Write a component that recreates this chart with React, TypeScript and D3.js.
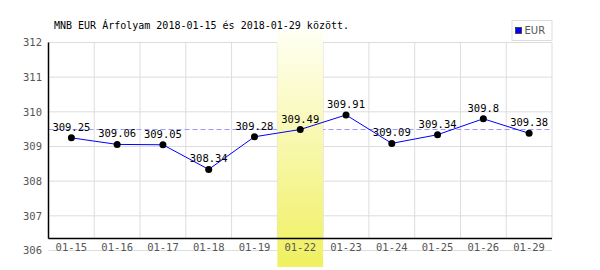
import React from "react";
import * as d3 from "d3";

const categories = ["01-15", "01-16", "01-17", "01-18", "01-19", "01-22", "01-23", "01-24", "01-25", "01-26", "01-29"];
const values = [309.25, 309.06, 309.05, 308.34, 309.28, 309.49, 309.91, 309.09, 309.34, 309.8, 309.38];
const yTicks = [306, 307, 308, 309, 310, 311, 312];
const highlightCategory = "01-22";
const referenceValue = 309.49;
const title = "MNB EUR Árfolyam 2018-01-15 és 2018-01-29 között.";
const seriesName = "EUR";

const W = 600;
const H = 270;
const left = 48.5;
const right = 552;
const axisY = 238.5;
const font = "'DejaVu Sans Mono', monospace";

export default function App() {
  const x = d3.scaleBand<string>().domain(categories).range([left, right]).padding(0);
  const y = d3.scaleLinear().domain([306, 312]).range([250.5, 42.5]);
  const cx = (c: string) => (x(c) as number) + x.bandwidth() / 2;
  const line = d3
    .line<number>()
    .x((_, i) => cx(categories[i]))
    .y((d) => y(d));
  const hx = x(highlightCategory) as number;
  const boundaries = categories.map((c) => x(c) as number).concat([right]);
  const refY = Math.round(y(referenceValue)) - 0.5;

  return (
    <svg width={W} height={H} style={{ position: "absolute", left: 0, top: 0 }}>
      <defs>
        <linearGradient id="hl" x1="0" y1="0" x2="0" y2="1">
          <stop offset="0" stopColor="#fffff4" />
          <stop offset="1" stopColor="#f0f060" />
        </linearGradient>
      </defs>
      <rect width={W} height={H} fill="#fff" />
      {yTicks.map((t) => (
        <line key={"h" + t} x1={left} x2={right} y1={y(t)} y2={y(t)} stroke="#dddddd" strokeWidth={1} />
      ))}
      {boundaries.map((b, i) => (
        <line key={"v" + i} x1={b} x2={b} y1={y(312)} y2={axisY} stroke="#dddddd" strokeWidth={1} />
      ))}
      <line x1={left} x2={right} y1={refY} y2={refY} stroke="#9999ff" strokeWidth={1} strokeDasharray="5,3" />
      <rect x={hx} y={30} width={x.bandwidth()} height={237} fill="url(#hl)" />
      <line x1={left} x2={left} y1={y(312)} y2={axisY} stroke="#000" strokeWidth={1.5} />
      <line x1={left} x2={right} y1={axisY} y2={axisY} stroke="#000" strokeWidth={1.5} />
      {yTicks.map((t) => (
        <text key={"yl" + t} x={42} y={y(t)} dy="0.35em" textAnchor="end" fontFamily={font} fontSize={10.5} fill="#555">
          {t}
        </text>
      ))}
      {categories.map((c) => (
        <text key={"xl" + c} x={cx(c)} y={251} textAnchor="middle" fontFamily={font} fontSize={10.5} fill="#555">
          {c}
        </text>
      ))}
      <path d={line(values) as string} fill="none" stroke="#0000ff" strokeWidth={1} />
      {values.map((v, i) => (
        <circle key={"p" + i} cx={cx(categories[i])} cy={y(v)} r={3.5} fill="#000" />
      ))}
      {values.map((v, i) => (
        <text key={"vl" + i} x={cx(categories[i])} y={y(v) - 7} textAnchor="middle" fontFamily={font} fontSize={10.5} fill="#000">
          {String(v)}
        </text>
      ))}
      <text x={54} y={28.5} fontFamily={font} fontSize={10} fill="#000">
        {title}
      </text>
      <rect x={512} y={20.5} width={40} height={20} fill="#fff" stroke="#dddddd" strokeWidth={1} />
      <rect x={515.5} y={27.5} width={6} height={6} fill="#0000ff" stroke="#333" strokeWidth={0.8} />
      <text x={524.5} y={30.5} dy="0.35em" fontFamily="'DejaVu Sans', sans-serif" fontSize={10} fill="#555">
        {seriesName}
      </text>
    </svg>
  );
}
